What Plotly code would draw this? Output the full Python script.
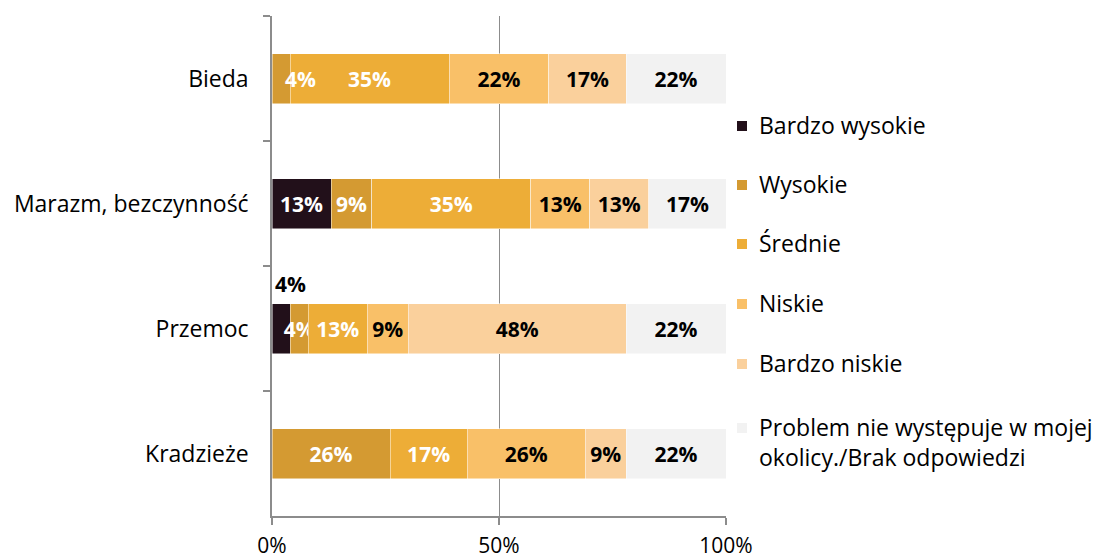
import plotly.graph_objects as go

categories = ["Bieda", "Marazm, bezczynność", "Przemoc", "Kradzieże"]
series_names = ["Bardzo wysokie", "Wysokie", "Średnie", "Niskie", "Bardzo niskie",
                "Problem nie występuje w mojej<br>okolicy./Brak odpowiedzi"]
bardzo_wysokie = [0, 13, 4, 0]
wysokie = [4, 9, 4, 26]
srednie = [35, 35, 13, 17]
niskie = [22, 13, 9, 26]
bardzo_niskie = [17, 13, 48, 9]
brak = [22, 17, 22, 22]

series_values = [bardzo_wysokie, wysokie, srednie, niskie, bardzo_niskie, brak]
colors = ["#22101a", "#d49a32", "#edad37", "#f9c068", "#fad09c", "#f2f2f2"]
text_colors = ["white", "white", "white", "black", "black", "black"]

# labels that were dragged away from their segment: (series, category, xshift, yshift, colour)
moved_labels = [(0, "Przemoc", 9, 45, "black"), (1, "Bieda", 19, 0, "white")]

FONT = "Open Sans"
FS = 21      # data labels, x ticks
FS_TXT = 23  # category labels, legend

W, H = 1102, 559
L, R, T, B = 272, 376, 16, 43
PW, PH = W - L - R, H - T - B

def px_x(p):
    return (p - L) / PW

def px_y(p):
    return 1 - (p - T) / PH

fig = go.Figure()
moved = {(s, c) for s, c, *_ in moved_labels}
for i, (name, vals) in enumerate(zip(series_names, series_values)):
    labels = []
    for j, v in enumerate(vals):
        if v == 0 or (i, categories[j]) in moved:
            labels.append("")
        else:
            labels.append(f"{v}%")
    fig.add_trace(go.Bar(
        y=categories, x=vals, name=name, orientation="h",
        marker=dict(color=colors[i], line=dict(color="rgba(255,255,255,0.6)", width=0.8)),
        text=labels, textposition="inside", insidetextanchor="middle",
        textangle=0, constraintext="none", cliponaxis=False,
        textfont=dict(family=FONT, size=FS, color=text_colors[i], weight="bold"),
        showlegend=False,
    ))

for s, cat, dx, dy, col in moved_labels:
    j = categories.index(cat)
    start = sum(series_values[k][j] for k in range(s))
    v = series_values[s][j]
    fig.add_annotation(x=start + v / 2, y=cat, text=f"<b>{v}%</b>",
                       showarrow=False, xshift=dx, yshift=dy,
                       font=dict(family=FONT, size=FS, color=col))

# hand-built legend (plotly's own legend pushes the plot margin)
legend_rows = [126, 185, 244, 304, 364, 428]
for name, col, cy in zip(series_names, colors, legend_rows):
    fig.add_shape(type="rect", xref="paper", yref="paper",
                  x0=px_x(737), x1=px_x(747), y0=px_y(cy - 5), y1=px_y(cy + 5),
                  fillcolor=col, line=dict(width=0))
    fig.add_annotation(xref="paper", yref="paper", x=px_x(757), y=px_y(cy - 19),
                       xanchor="left", yanchor="top", align="left", showarrow=False,
                       text=name, font=dict(family=FONT, size=FS_TXT, color="black"))

fig.update_layout(
    width=W, height=H,
    barmode="stack", bargap=0.6,
    plot_bgcolor="white", paper_bgcolor="white",
    margin=dict(l=L, r=R, t=T, b=B),
    font=dict(family=FONT, size=FS, color="black"),
    uniformtext=dict(minsize=8, mode="show"),
    showlegend=False,
)
fig.update_xaxes(range=[0, 100], tickvals=[0, 50, 100], ticktext=["0%", "50%", "100%"],
                 showgrid=True, gridcolor="#8c8c8c", gridwidth=1.2,
                 showline=True, linecolor="#8c8c8c", linewidth=1.5,
                 ticks="outside", ticklen=7, tickcolor="#8c8c8c", tickwidth=1.5,
                 zeroline=False, tickfont=dict(size=FS), ticklabelstandoff=3,
                 automargin=False)
fig.update_yaxes(autorange="reversed", showline=True, linecolor="#8c8c8c", linewidth=1.5,
                 ticks="outside", ticklen=7, tickcolor="#8c8c8c", tickwidth=1.5,
                 tickson="boundaries", showgrid=False, ticklabelstandoff=17,
                 tickfont=dict(size=FS_TXT), automargin=False)

# drop the default body margin so the figure fills the window exactly
fig.write_html("out.html", config={"displayModeBar": False},
               post_script="document.body.style.margin='0';")
